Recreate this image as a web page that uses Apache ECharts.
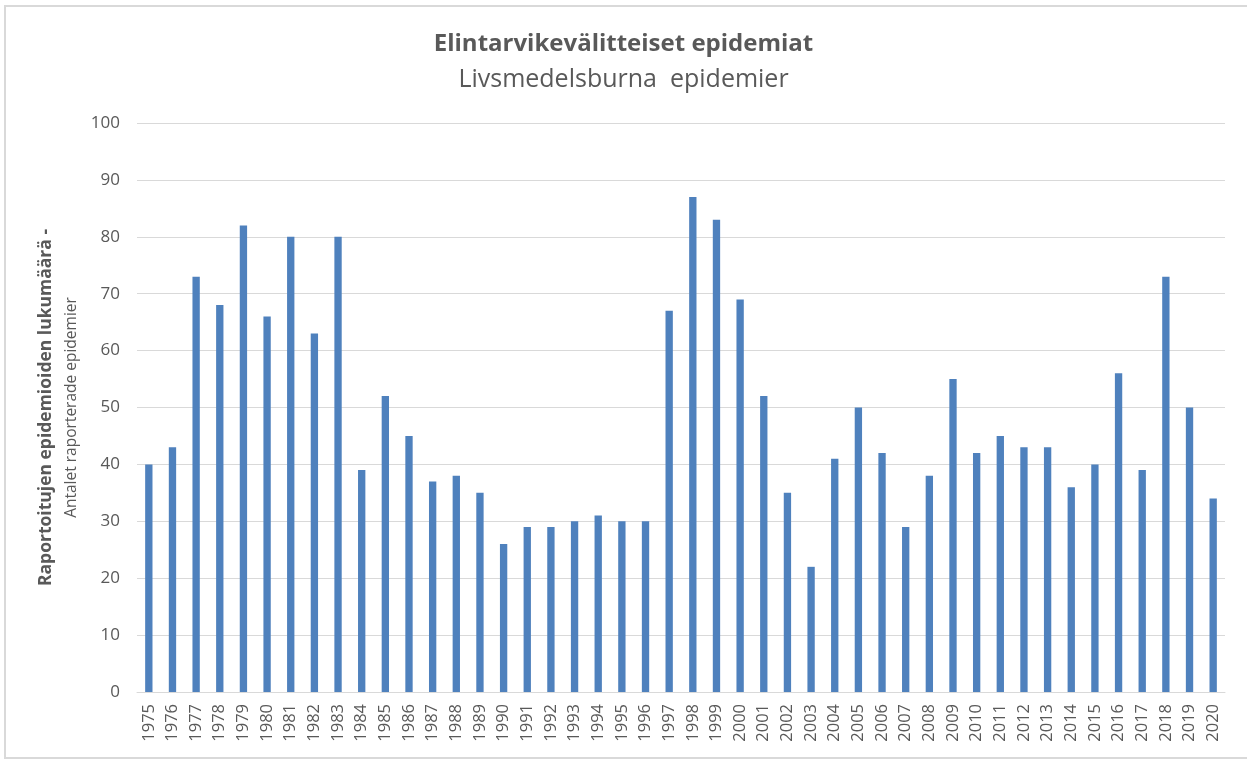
<!DOCTYPE html>
<html>
<head>
<meta charset="utf-8">
<script src="https://cdn.jsdelivr.net/npm/echarts@6/dist/echarts.min.js"></script>
<style>
  html, body { margin: 0; padding: 0; background: #fff; }
  #chart { width: 1247px; height: 761px; }
</style>
</head>
<body>
<div id="chart"></div>
<script>
const years = [
  '1975', '1976', '1977', '1978', '1979', '1980', '1981', '1982', '1983', '1984',
  '1985', '1986', '1987', '1988', '1989', '1990', '1991', '1992', '1993', '1994',
  '1995', '1996', '1997', '1998', '1999', '2000', '2001', '2002', '2003', '2004',
  '2005', '2006', '2007', '2008', '2009', '2010', '2011', '2012', '2013', '2014',
  '2015', '2016', '2017', '2018', '2019', '2020'
];
const outbreaks = [
  40, 43, 73, 68, 82, 66, 80, 63, 80, 39,
  52, 45, 37, 38, 35, 26, 29, 29, 30, 31,
  30, 30, 67, 87, 83, 69, 52, 35, 22, 41,
  50, 42, 29, 38, 55, 42, 45, 43, 43, 36,
  40, 56, 39, 73, 50, 34
];
const titleFi = 'Elintarvikevälitteiset epidemiat';
const titleSv = 'Livsmedelsburna  epidemier';
const axisNameFi = 'Raportoitujen epidemioiden lukumäärä -';
const axisNameSv = 'Antalet raporterade epidemier';

const font = '"Open Sans", "Liberation Sans", sans-serif';
const textColor = '#595959';

const chart = echarts.init(document.getElementById('chart'));
chart.setOption({
  animation: false,
  textStyle: { fontFamily: font },
  graphic: [{
    type: 'rect',
    shape: { x: 5, y: 6, width: 1260, height: 752 },
    style: { fill: 'none', stroke: '#d9d9d9', lineWidth: 2 },
    silent: true
  }],
  title: {
    text: titleFi,
    subtext: titleSv,
    left: 'center',
    top: 27,
    itemGap: 11,
    textStyle: { fontFamily: font, fontSize: 24, fontWeight: 'bold', color: textColor },
    subtextStyle: { fontFamily: font, fontSize: 25, color: textColor }
  },
  grid: { left: 137, right: 22, top: 123, bottom: 69 },
  xAxis: {
    type: 'category',
    data: years,
    axisLine: { lineStyle: { color: '#d9d9d9', width: 1 } },
    axisTick: { show: false },
    axisLabel: { rotate: 90, color: textColor, fontSize: 16.5, margin: 12 }
  },
  yAxis: {
    type: 'value',
    min: 0,
    max: 100,
    interval: 10,
    name: '{a|' + axisNameFi + '}\n{b|' + axisNameSv + '}',
    nameLocation: 'middle',
    nameGap: 52,
    nameTextStyle: {
      rich: {
        a: { fontFamily: font, fontSize: 17.5, fontWeight: 'bold', color: textColor, lineHeight: 26 },
        b: { fontFamily: font, fontSize: 15.5, color: textColor, lineHeight: 26 }
      }
    },
    axisLine: { show: false },
    axisTick: { show: false },
    axisLabel: { color: textColor, fontSize: 17, margin: 17 },
    splitLine: { lineStyle: { color: '#d9d9d9', width: 1 } }
  },
  series: [{
    type: 'bar',
    data: outbreaks,
    barWidth: '31%',
    itemStyle: { color: '#4f81bd' }
  }]
});
</script>
</body>
</html>
